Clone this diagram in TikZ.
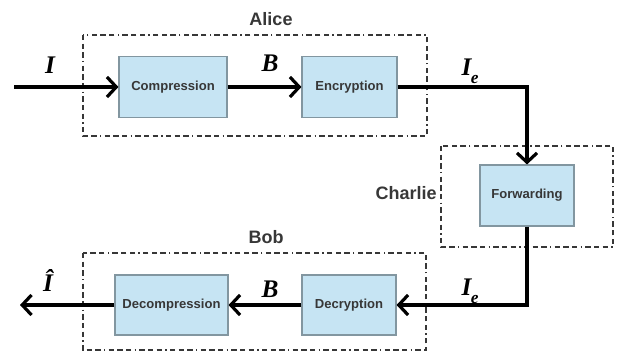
\documentclass[tikz,border=0pt]{standalone}
\usepackage{fontspec}
\setmainfont{Liberation Serif}
\setsansfont{Liberation Sans}
\usepackage{tikz}
\usetikzlibrary{arrows.meta, calc}
\definecolor{boxfill}{RGB}{198,228,243}
\definecolor{boxline}{RGB}{130,150,160}
\definecolor{txtgray}{RGB}{55,55,55}
\tikzset{
  block/.style={draw=boxline, fill=boxfill, line width=0.8pt, inner sep=0pt,
    text=txtgray, font=\sffamily\bfseries\fontsize{9.8}{11}\selectfont},
  party/.style={draw=txtgray, line width=1.1pt,
    dash pattern=on 4pt off 2.5pt on 4pt off 2.5pt on 4pt off 2.5pt on 1pt off 2.5pt},
  partyname/.style={text=txtgray, font=\sffamily\bfseries\fontsize{13.5}{15}\selectfont, inner sep=0pt},
  sym/.style={font=\rmfamily\bfseries\itshape\fontsize{19}{21}\selectfont, inner sep=0pt},
  flow/.style={line width=2.4pt, -{Straight Barb[length=7pt,width=15pt,line width=2.4pt]}}
}
\begin{document}
\begin{tikzpicture}[x=0.75pt, y=-0.75pt]
\useasboundingbox (0,0) rectangle (621,352);
% frames of the three parties
\draw[party] (83,35) rectangle (427,136);
\draw[party] (441,146) rectangle (613,247);
\draw[party] (83,253) rectangle (426,350);
\node[partyname] (alice) at (271,19) {Alice};
\node[partyname, anchor=east] (charlie) at (437,193) {Charlie};
\node[partyname] (bob) at (266,237) {Bob};
% processing blocks
\node[block, minimum width=81pt, minimum height=45.75pt] (comp) at (173,87) {Compression};
\node[block, minimum width=71.25pt, minimum height=45.75pt] (enc) at (349.5,87) {Encryption};
\node[block, minimum width=70.5pt, minimum height=45.75pt] (fwd) at (527,195.5) {Forwarding};
\node[block, minimum width=70.5pt, minimum height=45pt] (dec) at (349,305) {Decryption};
\node[block, minimum width=84.75pt, minimum height=45pt] (decomp) at (171.5,305) {Decompression};
\coordinate (in) at (14,87);
\coordinate (out) at (20,305);
% signal path
\draw[flow] (in) -- (comp);
\draw[flow] (comp) -- (enc);
\draw[flow] (enc.east) -| (fwd.north);
\draw[flow] (fwd.south) |- (dec.east);
\draw[flow] (dec) -- (decomp);
\draw[flow] (decomp) -- (out);
% symbols on the wires
\node[sym] (lin) at (50,65) {I};
\node[sym] (lb1) at (270,63) {B};
\node[sym] (le1) at (470,71) {I\kern-0.5pt\raisebox{-0.3em}{\fontsize{13}{15}\selectfont e}};
\node[sym] (lb2) at (270,289) {B};
\node[sym] (le2) at (470,291) {I\kern-0.5pt\raisebox{-0.3em}{\fontsize{13}{15}\selectfont e}};
\node[sym] (lout) at (48,281) {Î};
\end{tikzpicture}
\end{document}
